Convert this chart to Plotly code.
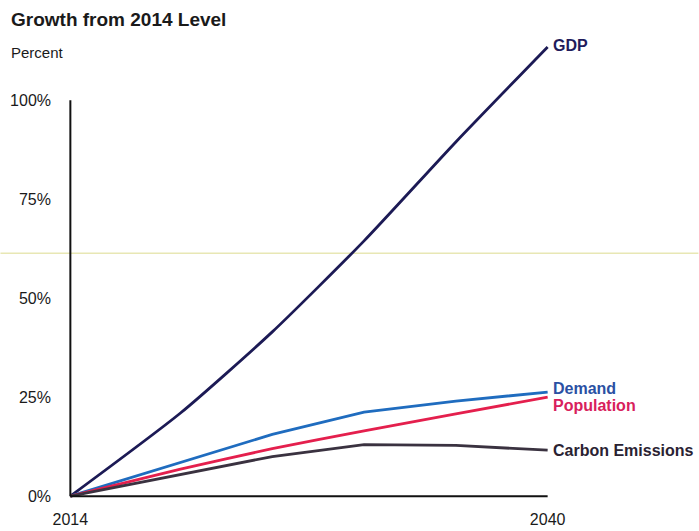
import plotly.graph_objects as go

# Projected growth relative to 2014, in percent
years = [2014, 2020, 2025, 2030, 2035, 2040]
gdp = [0, 21.0, 41.5, 64.5, 89.5, 113.5]
demand = [0, 8.6, 15.6, 21.2, 24.0, 26.3]
population = [0, 6.8, 12.0, 16.5, 20.8, 25.0]
carbon = [0, 5.5, 10.0, 13.0, 12.8, 11.6]

series_names = ["GDP", "Demand", "Population", "Carbon Emissions"]
series_values = [gdp, demand, population, carbon]
line_colors = ["#1c1a55", "#1f6cbf", "#e41f4d", "#3a3240"]
label_colors = ["#1f1c5c", "#2a50a3", "#d8205c", "#2a2232"]
line_shapes = ["spline", "linear", "spline", "linear"]

y_ticks = [0, 25, 50, 75, 100]
y_tick_text = ["0%", "25%", "50%", "75%", "100%"]
x_ticks = [2014, 2040]

W, H = 699, 531
L, R, T, B = 51.6, 132.6, 40.6, 23.1
FONT = "Liberation Sans, Arial, sans-serif"


def px_x(p):
    return (p - L) / (W - L - R)


def px_y(p):
    return (H - B - p) / (H - T - B)


fig = go.Figure()

for name, vals, col, shp in zip(series_names, series_values, line_colors, line_shapes):
    fig.add_trace(go.Scatter(
        x=years, y=vals, mode="lines", name=name,
        line=dict(color=col, width=2.8, shape=shp, smoothing=0.6),
        showlegend=False, hoverinfo="skip",
    ))

# series labels at the right end of each line, nudged apart where close
label_offsets = {"Demand": 4, "Population": -8, "GDP": 1, "Carbon Emissions": 0}
for name, vals, col in zip(series_names, series_values, label_colors):
    fig.add_annotation(
        x=years[-1], y=vals[-1], xref="x", yref="y",
        text=f"<b>{name}</b>", showarrow=False,
        xanchor="left", yanchor="middle", xshift=3,
        yshift=label_offsets[name],
        font=dict(family=FONT, size=16, color=col),
    )

# axis lines: y only up to 100%, x across the full span
fig.add_shape(type="line", xref="x", yref="y", x0=years[0], x1=years[0],
              y0=0, y1=100, line=dict(color="#111111", width=2))
fig.add_shape(type="line", xref="x", yref="y", x0=years[0], x1=years[-1],
              y0=0, y1=0, line=dict(color="#111111", width=2))

# faint horizontal yellow streak across the page
fig.add_shape(type="line", xref="paper", yref="paper",
              x0=px_x(0), x1=px_x(W), y0=px_y(253), y1=px_y(253),
              line=dict(color="#e8e7b4", width=1.5), layer="below")

fig.add_annotation(
    xref="paper", yref="paper", x=px_x(9), y=px_y(19),
    text="<b>Growth from 2014 Level</b>", showarrow=False,
    xanchor="left", yanchor="middle",
    font=dict(family=FONT, size=19, color="#1a1a1a"),
)
fig.add_annotation(
    xref="paper", yref="paper", x=px_x(9), y=px_y(52),
    text="Percent", showarrow=False,
    xanchor="left", yanchor="middle",
    font=dict(family=FONT, size=15, color="#1a1a1a"),
)

fig.update_layout(
    width=W, height=H,
    margin=dict(l=L, r=R, t=T, b=B, pad=0, autoexpand=False),
    paper_bgcolor="white", plot_bgcolor="white",
    xaxis=dict(
        range=[2013, 2041], tickvals=x_ticks,
        ticktext=[str(v) for v in x_ticks],
        showgrid=False, zeroline=False, showline=False, automargin=False,
        ticks="", ticklabelstandoff=0,
        tickfont=dict(family=FONT, size=16, color="#1a1a1a"),
    ),
    yaxis=dict(
        range=[-3, 115], tickvals=y_ticks, ticktext=y_tick_text,
        showgrid=False, zeroline=False, showline=False, automargin=False,
        ticks="", ticklabelstandoff=0,
        tickfont=dict(family=FONT, size=16, color="#1a1a1a"),
    ),
)

fig.write_html("out.html")
